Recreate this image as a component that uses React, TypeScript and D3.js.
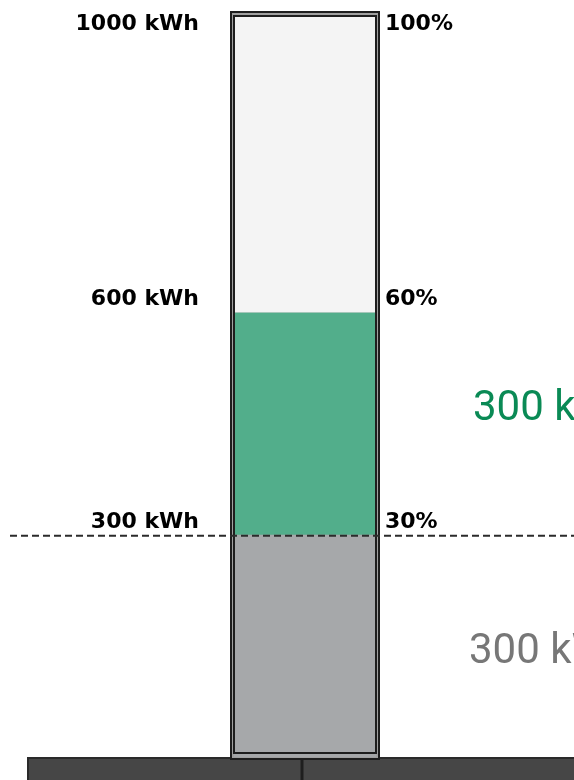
import React, {useEffect, useRef} from 'react';
import * as d3 from 'd3';

// capacity segments in kWh
const capacity = 1000;
const segStart = [0, 300, 600];
const segEnd = [300, 600, 1000];
const segColors = ['#a6a8aa', '#52ae8b', '#f4f4f4'];
const tickValues = [1000, 600, 300];
const reserveLine = 300;
const sideLabels = ['300 kWh', '300 kWh'];
const sideLabelAt = [450, 150];
const sideColors = ['#0a8a55', '#777777'];

function App() {
  const ref = useRef<SVGSVGElement>(null);
  const width = 574;
  const height = 780;

  useEffect(() => {
    const svg = d3.select(ref.current);
    svg.selectAll('*').remove();

    const y = d3.scaleLinear().domain([0, capacity]).range([757, 16]);
    const pct = d3.scaleLinear().domain([0, capacity]).range([0, 100]);
    const x0 = 234, x1 = 376;

    // base platform
    svg.append('rect').attr('x', 28).attr('y', 758).attr('width', 560).attr('height', 30)
      .attr('fill', '#464646').attr('stroke', '#2a2a2a').attr('stroke-width', 2);
    svg.append('line').attr('x1', 302).attr('x2', 302).attr('y1', 758).attr('y2', 780)
      .attr('stroke', '#1e1e1e').attr('stroke-width', 3);

    // outer double frame
    svg.append('rect').attr('x', 231).attr('y', y(capacity) - 4).attr('width', x1 - x0 + 6)
      .attr('height', y(0) - y(capacity) + 6).attr('fill', '#a0a0a0')
      .attr('stroke', '#1e1e1e').attr('stroke-width', 2);

    svg.selectAll('rect.seg')
      .data(d3.range(segStart.length))
      .enter()
      .append('rect')
      .attr('class', 'seg')
      .attr('x', x0)
      .attr('width', x1 - x0)
      .attr('y', i => y(segEnd[i]))
      .attr('height', i => y(segStart[i]) - y(segEnd[i]))
      .attr('fill', i => segColors[i]);

    svg.append('rect').attr('x', x0).attr('y', y(capacity)).attr('width', x1 - x0)
      .attr('height', y(0) - y(capacity) - 4).attr('fill', 'none')
      .attr('stroke', '#1e1e1e').attr('stroke-width', 2);

    // reserve dashed line
    svg.append('line').attr('x1', 10).attr('x2', width).attr('y1', y(reserveLine) + 1).attr('y2', y(reserveLine) + 1)
      .attr('stroke', '#2b2b2b').attr('stroke-width', 2).attr('stroke-dasharray', '7,4');

    const labels = svg.append('g').attr('font-family', 'DejaVu Sans').attr('font-weight', 'bold')
      .attr('font-size', 22).attr('fill', '#000');
    labels.selectAll('text.kwh').data(tickValues).enter().append('text')
      .attr('class', 'kwh')
      .attr('x', 199).attr('y', d => y(d) + (d === capacity ? 14 : -7))
      .attr('text-anchor', 'end')
      .text(d => `${d} kWh`);
    labels.selectAll('text.pct').data(tickValues).enter().append('text')
      .attr('class', 'pct')
      .attr('x', 385).attr('y', d => y(d) + (d === capacity ? 14 : -7))
      .text(d => `${pct(d)}%`);

    svg.selectAll('text.side').data(sideLabels).enter().append('text')
      .attr('class', 'side')
      .attr('x', (d, i) => i === 0 ? 473 : 469)
      .attr('y', (d, i) => i === 0 ? y(sideLabelAt[i]) - 4 : y(sideLabelAt[i]) + 17)
      .attr('font-family', 'Roboto').attr('font-size', 42)
      .attr('fill', (d, i) => sideColors[i])
      .text(d => d);
  }, []);

  return (
    <div style={{position: 'fixed', left: 0, top: 0}}>
      <svg ref={ref} width={width} height={height} style={{display: 'block'}}/>
    </div>
  );
}

export default App;
